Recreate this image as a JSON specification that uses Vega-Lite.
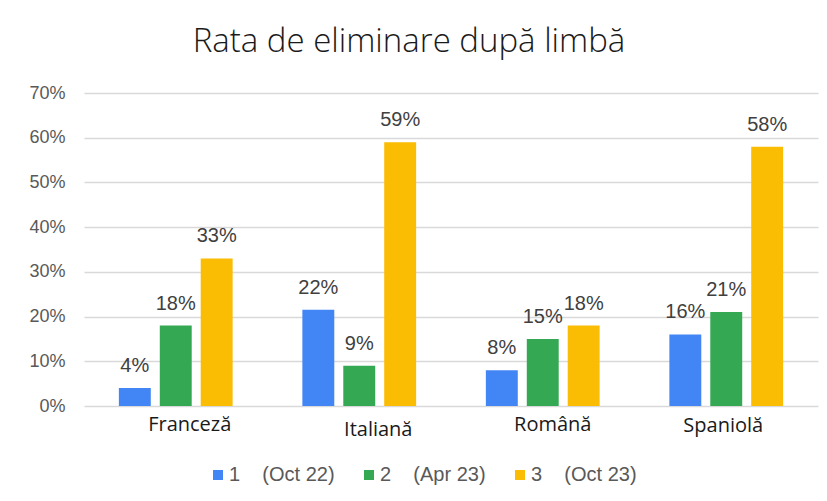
{
  "$schema": "https://vega.github.io/schema/vega-lite/v6.json",
  "width": 734,
  "height": 313,
  "autosize": {"type": "none"},
  "padding": {"left": 84, "top": 93, "right": 9, "bottom": 95},
  "background": "white",
  "title": {
    "text": "Rata de eliminare după limbă",
    "font": "Open Sans",
    "fontWeight": 300,
    "fontSize": 33,
    "color": "#1a1a1a",
    "anchor": "middle",
    "dx": -42,
    "offset": 25
  },
  "data": {
    "values": [
      {"limba": "Franceză", "etapa": "1\u00a0\u00a0\u00a0\u00a0(Oct 22)", "rata": 0.04},
      {"limba": "Franceză", "etapa": "2\u00a0\u00a0\u00a0\u00a0(Apr 23)", "rata": 0.18},
      {"limba": "Franceză", "etapa": "3\u00a0\u00a0\u00a0\u00a0(Oct 23)", "rata": 0.33},
      {"limba": "Italiană", "etapa": "1\u00a0\u00a0\u00a0\u00a0(Oct 22)", "rata": 0.215},
      {"limba": "Italiană", "etapa": "2\u00a0\u00a0\u00a0\u00a0(Apr 23)", "rata": 0.09},
      {"limba": "Italiană", "etapa": "3\u00a0\u00a0\u00a0\u00a0(Oct 23)", "rata": 0.59},
      {"limba": "Română", "etapa": "1\u00a0\u00a0\u00a0\u00a0(Oct 22)", "rata": 0.08},
      {"limba": "Română", "etapa": "2\u00a0\u00a0\u00a0\u00a0(Apr 23)", "rata": 0.15},
      {"limba": "Română", "etapa": "3\u00a0\u00a0\u00a0\u00a0(Oct 23)", "rata": 0.18},
      {"limba": "Spaniolă", "etapa": "1\u00a0\u00a0\u00a0\u00a0(Oct 22)", "rata": 0.16},
      {"limba": "Spaniolă", "etapa": "2\u00a0\u00a0\u00a0\u00a0(Apr 23)", "rata": 0.21},
      {"limba": "Spaniolă", "etapa": "3\u00a0\u00a0\u00a0\u00a0(Oct 23)", "rata": 0.58}
    ]
  },
  "encoding": {
    "x": {
      "field": "limba",
      "type": "nominal",
      "sort": null,
      "title": null,
      "scale": {"paddingInner": 0.38, "paddingOuter": 0.19},
      "axis": {
        "labelAngle": 0,
        "labelFont": "Open Sans",
        "labelFontSize": 20,
        "labelColor": "#1a1a1a",
        "ticks": false,
        "domain": false,
        "labelOffset": {
          "condition": [
            {"test": "datum.value === 'Franceză'", "value": 14},
            {"test": "datum.value === 'Italiană'", "value": 19},
            {"test": "datum.value === 'Română'", "value": 10}
          ],
          "value": -3
        },
        "labelPadding": {
          "condition": [
            {"test": "datum.value === 'Italiană'", "value": 13},
            {"test": "datum.value === 'Spaniolă'", "value": 9}
          ],
          "value": 8
        }
      }
    },
    "xOffset": {
      "field": "etapa",
      "type": "nominal",
      "sort": null,
      "scale": {"paddingInner": 0.22, "paddingOuter": 0}
    },
    "y": {
      "field": "rata",
      "type": "quantitative",
      "title": null,
      "scale": {"domain": [0, 0.7], "nice": false},
      "axis": {
        "format": ".0%",
        "values": [0, 0.1, 0.2, 0.3, 0.4, 0.5, 0.6, 0.7],
        "labelFont": "Liberation Sans",
        "labelFontSize": 18,
        "labelColor": "#595959",
        "labelPadding": 19,
        "ticks": false,
        "domain": false,
        "grid": true,
        "gridColor": "#d9d9d9",
        "gridWidth": 1.5
      }
    }
  },
  "layer": [
    {
      "mark": {"type": "bar"},
      "encoding": {
        "color": {
          "field": "etapa",
          "type": "nominal",
          "sort": null,
          "scale": {
            "domain": ["1\u00a0\u00a0\u00a0\u00a0(Oct 22)", "2\u00a0\u00a0\u00a0\u00a0(Apr 23)", "3\u00a0\u00a0\u00a0\u00a0(Oct 23)"],
            "range": ["#4285F4", "#34A853", "#FBBC04"]
          },
          "legend": {
            "title": null,
            "orient": "none",
            "direction": "horizontal",
            "legendX": 124,
            "legendY": 372,
            "symbolType": "square",
            "symbolSize": 100,
            "symbolStrokeWidth": 0,
            "labelFont": "Liberation Sans",
            "labelFontSize": 20,
            "labelColor": "#595959",
            "labelOffset": 1,
            "columnPadding": 24
          }
        }
      }
    },
    {
      "mark": {
        "type": "text",
        "baseline": "bottom",
        "dy": -12,
        "font": "Liberation Sans",
        "fontSize": 20,
        "color": "#404040"
      },
      "encoding": {
        "text": {"field": "rata", "type": "quantitative", "format": ".0%"}
      }
    }
  ],
  "config": {
    "view": {"stroke": null}
  }
}
